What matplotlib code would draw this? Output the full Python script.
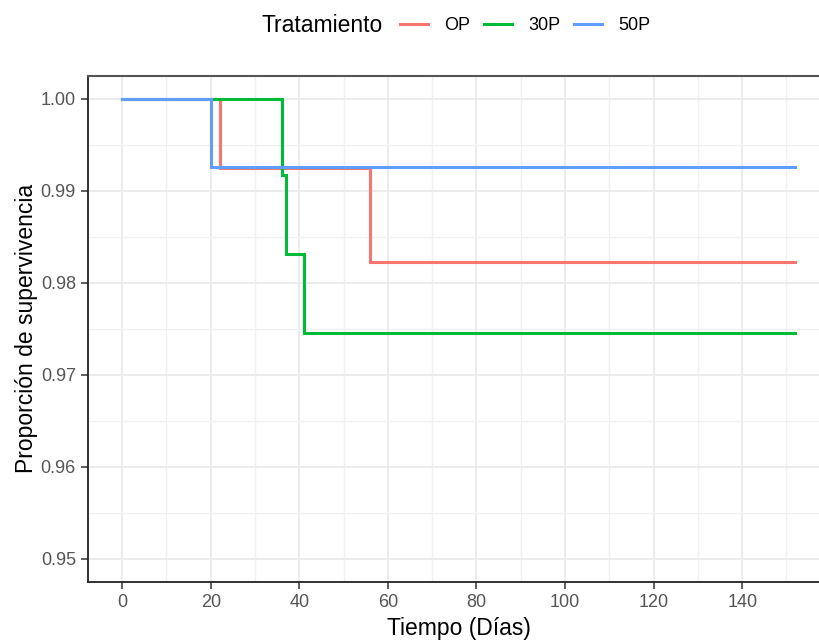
import numpy as np
import matplotlib
matplotlib.use("Agg")
import matplotlib.pyplot as plt
from matplotlib.lines import Line2D
from matplotlib.ticker import MultipleLocator

# Kaplan-Meier steps
groups = ["OP", "30P", "50P"]
colors = ["#F8766D", "#00BA38", "#619CFF"]
t_op = [0, 22, 56, 152]
s_op = [1.0, 0.9925, 0.9823, 0.9823]
t_30p = [0, 36, 37, 41, 152]
s_30p = [1.0, 0.9917, 0.9831, 0.9745, 0.9745]
t_50p = [0, 20, 152]
s_50p = [1.0, 0.9926, 0.9926]

x_ticks = [0, 20, 40, 60, 80, 100, 120, 140]
y_ticks = [0.95, 0.96, 0.97, 0.98, 0.99, 1.00]
y_labels = ["0.95", "0.96", "0.97", "0.98", "0.99", "1.00"]

plt.rcParams["font.family"] = ["Liberation Sans", "DejaVu Sans"]

W, H = 820, 642
fig = plt.figure(figsize=(W / 100, H / 100), dpi=100)
ax = fig.add_axes([88.5 / W, 1 - 581.7 / H, (829 - 88.5) / W, (581.7 - 75.7) / H])

curves = [(t_op, s_op), (t_30p, s_30p), (t_50p, s_50p)]
for (t, s), c in zip(curves, colors):
    ax.step(t, s, where="post", color=c, lw=2.2, solid_joinstyle="miter", zorder=3)

ax.set_xlim(-7.6, 159.6)
ax.set_ylim(0.9475, 1.0025)
ax.set_xticks(x_ticks)
ax.set_yticks(y_ticks)
ax.set_yticklabels(y_labels)
ax.xaxis.set_minor_locator(MultipleLocator(10))
ax.yaxis.set_minor_locator(MultipleLocator(0.005))
ax.grid(True, which="major", color="#EBEBEB", lw=1.3, zorder=0)
ax.grid(True, which="minor", color="#F0F0F0", lw=1.0, zorder=0)
ax.set_axisbelow(True)

ax.tick_params(which="major", length=5, width=1.1, color="#333333",
               labelsize=13, labelcolor="#555555", pad=4)
ax.tick_params(which="minor", length=0)
for side in ["left", "bottom"]:
    ax.spines[side].set_color("#222222")
    ax.spines[side].set_linewidth(1.3)
ax.spines["top"].set_color("#555555")
ax.spines["top"].set_linewidth(1.5)
ax.spines["right"].set_color("#555555")

ax.set_xlabel("Tiempo (Días)", fontsize=16.5, color="black", labelpad=4)
ax.set_ylabel("Proporción de supervivencia", fontsize=16.5, color="black", labelpad=2)

# legend on top, title to the left of the keys
fig.text(262 / W, 1 - 26 / H, "Tratamiento", fontsize=16.5, ha="left", va="center")
handles = [Line2D([0], [0], color=c, lw=2.2) for c in colors]
fig.legend(handles, groups, loc="center left", bbox_to_anchor=(400 / W, 1 - 26 / H),
           ncol=3, frameon=False, fontsize=13, handlelength=1.55,
           handletextpad=0.9, columnspacing=0.75, borderpad=0, borderaxespad=0)

fig.savefig("out.png", dpi=100)
